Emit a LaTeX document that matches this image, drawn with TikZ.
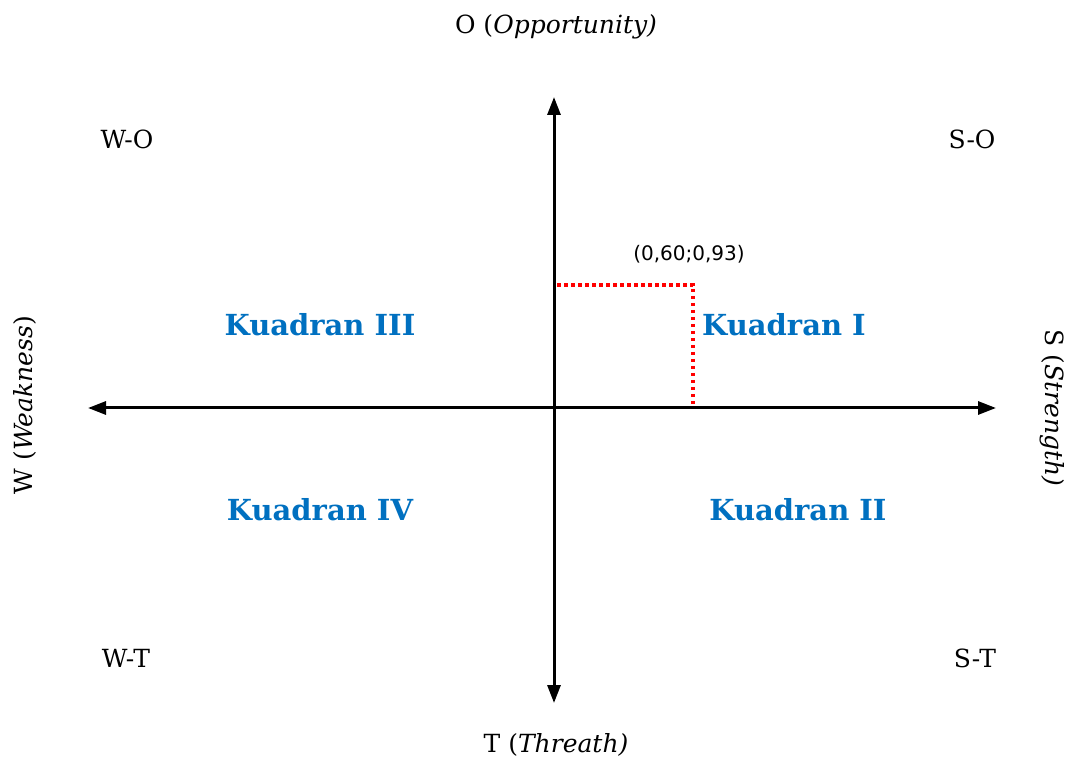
\documentclass[tikz,border=0pt]{standalone}
\usepackage{fontspec}
\setmainfont{DejaVu Serif}
\newfontfamily\labelsans{DejaVu Sans}
\usetikzlibrary{arrows.meta}
\definecolor{kuadranblue}{HTML}{0070C0}
\begin{document}
\begin{tikzpicture}[x=1pt,y=1pt,font=\fontsize{25}{28}\selectfont,
  >={Triangle[length=18pt,width=13pt]},
  axis/.style={line width=3pt},
  kuadran/.style={text=kuadranblue,font=\fontsize{29}{32}\selectfont\bfseries}]
  \useasboundingbox (0,0) rectangle (1075,760);
  % sumbu
  \coordinate (west) at (88,352);
  \coordinate (east) at (996,352);
  \coordinate (north) at (554,663);
  \coordinate (south) at (554,57);
  \draw[axis,<->] (west) -- (east);
  \draw[axis,<->] (south) -- (north);
  % titik posisi
  \coordinate (ytick) at (557,475);
  \coordinate (point) at (693,475);
  \coordinate (xtick) at (693,352);
  \draw[red,line width=3.5pt,dash pattern=on 3.5pt off 3.5pt] (ytick) -- (point) -- (xtick);
  \node[font=\labelsans\fontsize{20}{22}\selectfont] (pointlabel) at (689,506) {(0,60;0,93)};
  % label sumbu
  \node (opp) at (556,733) {O (\textit{Opportunity)}};
  \node (thr) at (556,15) {T (\textit{Threath)}};
  \node[rotate=90] (weak) at (25,355) {W (\textit{Weakness})};
  \node[rotate=-90] (str) at (1052,352) {S (\textit{Strength)}};
  % strategi
  \node (wo) at (127,621) {W-O};
  \node (so) at (972,621) {S-O};
  \node (wt) at (126,102) {W-T};
  \node (st) at (975,102) {S-T};
  % kuadran
  \node[kuadran] (k3) at (320,435) {Kuadran III};
  \node[kuadran] (k1) at (784,435) {Kuadran I};
  \node[kuadran] (k4) at (320,250) {Kuadran IV};
  \node[kuadran] (k2) at (798,250) {Kuadran II};
\end{tikzpicture}
\end{document}
